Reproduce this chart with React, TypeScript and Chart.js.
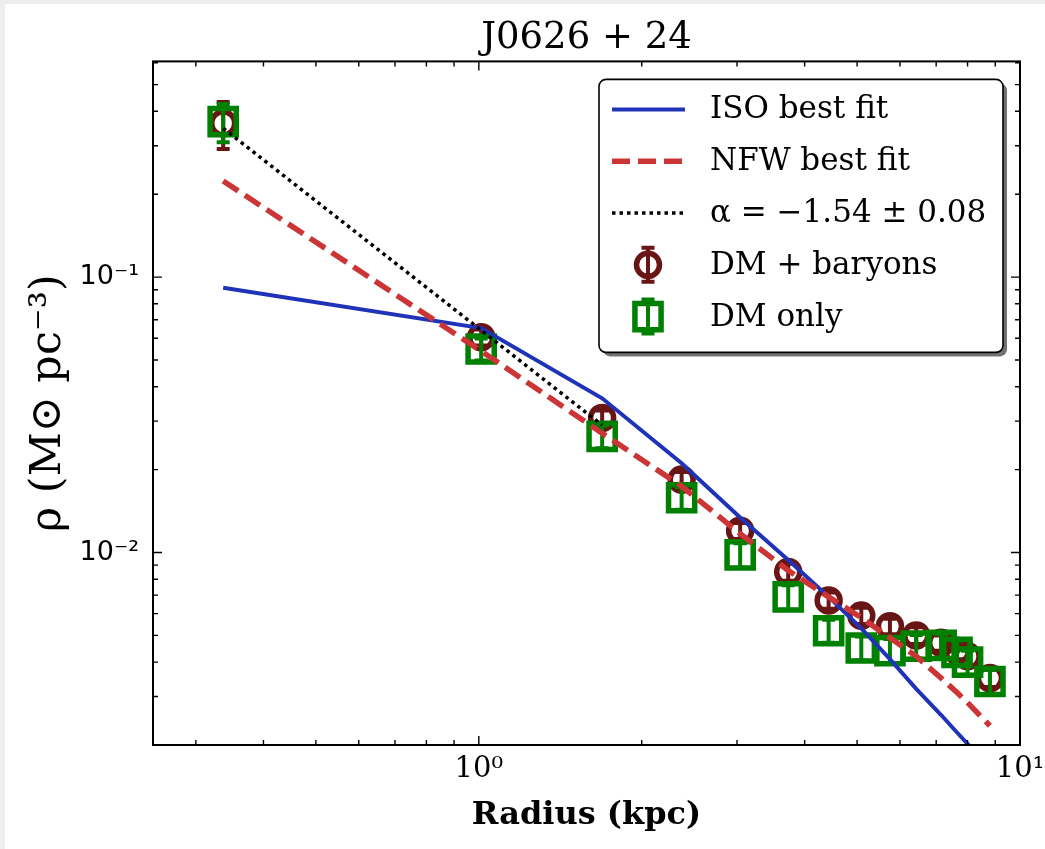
import React, { useEffect, useRef } from "react";
import { Chart, registerables } from "chart.js";

Chart.register(...registerables);

// Radii of the density-profile bins (kpc)
const radiusKpc = [0.337, 1.01, 1.69, 2.37, 3.04, 3.73, 4.43, 5.09, 5.75, 6.43, 7.15, 7.65, 8.0, 8.8];

// Dark matter + baryons density (M_sun pc^-3) and its 1-sigma error
const rhoDmBaryons = [0.362, 0.0605, 0.0308, 0.0184, 0.012, 0.0085, 0.0067, 0.0059, 0.0054, 0.005, 0.0047, 0.0044, 0.0042, 0.0035];
const errDmBaryons = [0.07, 0.004, 0.002, 0.0012, 0.0008, 0.0006, 0.00045, 0.0004, 0.00035, 0.00035, 0.0003, 0.0003, 0.0003, 0.00025];

// Dark matter only density (M_sun pc^-3) and its 1-sigma error
const rhoDmOnly = [0.367, 0.0548, 0.0264, 0.0158, 0.0098, 0.0069, 0.0052, 0.0045, 0.0044, 0.00457, 0.0046, 0.00434, 0.004, 0.0034];
const errDmOnly = [0.058, 0.005, 0.0025, 0.0015, 0.001, 0.0007, 0.0005, 0.00045, 0.00045, 0.00045, 0.00045, 0.00045, 0.0004, 0.00035];

// Best-fit model profiles evaluated at the bin radii
const isoBestFit = [0.0915, 0.0653, 0.0363, 0.0211, 0.0134, 0.0094, 0.0069, 0.0053, 0.0041, 0.0032, 0.00257, 0.00222, 0.00202, 0.00165];
const nfwBestFit = [0.2234, 0.0539, 0.0271, 0.0174, 0.0117, 0.0086, 0.0069, 0.0058, 0.0049, 0.0042, 0.0035, 0.0031, 0.00285, 0.00235];

// Inner power-law slope fit
const slopeRadiusKpc = [0.337, 1.01, 1.69];
const slopeFit = [0.347, 0.0641, 0.029];

const seriesLabels = ["ISO best fit", "NFW best fit", "α = −1.54 ± 0.08", "DM + baryons", "DM only"];

const titleText = "J0626 + 24";
const xTitle = "Radius (kpc)";
const yTitle = "ρ (M⊙ pc⁻³)";

const xRange = [0.25, 10];
const yRange = [0.002, 0.607];
const xTickValues = [1, 10];
const xTickLabels = ["10⁰", "10¹"];
const yTickValues = [0.01, 0.1];
const yTickLabels = ["10⁻²", "10⁻¹"];

const COLORS = {
  iso: "#1f33b8",
  nfw: "#cc3535",
  slope: "#000000",
  baryons: "#6a1515",
  dmOnly: "#008000",
};

const pairs = (xs: number[], ys: number[]) => xs.map((x, i) => ({ x, y: ys[i] }));

const labelFor = (v: number, values: number[], labels: string[]) => {
  const i = values.findIndex((t) => Math.abs(t - v) / t < 1e-6);
  return i >= 0 ? labels[i] : "";
};

function roundedRect(ctx: CanvasRenderingContext2D, x: number, y: number, w: number, h: number, r: number) {
  ctx.beginPath();
  ctx.moveTo(x + r, y);
  ctx.lineTo(x + w - r, y);
  ctx.arcTo(x + w, y, x + w, y + r, r);
  ctx.lineTo(x + w, y + h - r);
  ctx.arcTo(x + w, y + h, x + w - r, y + h, r);
  ctx.lineTo(x + r, y + h);
  ctx.arcTo(x, y + h, x, y + h - r, r);
  ctx.lineTo(x, y + r);
  ctx.arcTo(x, y, x + r, y, r);
  ctx.closePath();
}

function drawErrorBar(ctx: CanvasRenderingContext2D, px: number, top: number, bot: number, color: string) {
  ctx.strokeStyle = color;
  ctx.lineWidth = 4;
  ctx.beginPath();
  ctx.moveTo(px, top);
  ctx.lineTo(px, bot);
  ctx.stroke();
  ctx.beginPath();
  ctx.moveTo(px - 6.5, top);
  ctx.lineTo(px + 6.5, top);
  ctx.moveTo(px - 6.5, bot);
  ctx.lineTo(px + 6.5, bot);
  ctx.stroke();
}

export default function App() {
  const ref = useRef<HTMLCanvasElement>(null);

  useEffect(() => {
    const canvas = ref.current;
    if (!canvas) return;

    const errorSets: Record<number, { errors: number[]; color: string }> = {
      0: { errors: errDmBaryons, color: COLORS.baryons },
      1: { errors: errDmOnly, color: COLORS.dmOnly },
    };

    // Vertical error bars with caps, drawn just before each marker set
    const errorBarPlugin = {
      id: "errorBars",
      beforeDatasetDraw(chart: any, args: any) {
        const set = errorSets[args.index];
        if (!set) return;
        const { ctx, chartArea: a, scales } = chart;
        const ds = chart.data.datasets[args.index];
        ctx.save();
        ctx.beginPath();
        ctx.rect(a.left, a.top, a.width, a.height);
        ctx.clip();
        ds.data.forEach((p: { x: number; y: number }, i: number) => {
          const e = set.errors[i];
          const px = scales.x.getPixelForValue(p.x);
          const top = scales.y.getPixelForValue(p.y + e);
          const bot = scales.y.getPixelForValue(p.y - e);
          drawErrorBar(ctx, px, top, bot, set.color);
        });
        ctx.restore();
      },
    };

    // Axes frame with inward ticks on all four sides
    const framePlugin = {
      id: "frameTicks",
      afterDatasetsDraw(chart: any) {
        const { ctx, chartArea: a, scales } = chart;
        const logTicks = (min: number, max: number) => {
          const out: { v: number; major: boolean }[] = [];
          for (let e = Math.floor(Math.log10(min)); e <= Math.ceil(Math.log10(max)); e++) {
            for (let m = 1; m <= 9; m++) {
              const v = m * Math.pow(10, e);
              if (v >= min * (1 - 1e-9) && v <= max * (1 + 1e-9)) out.push({ v, major: m === 1 });
            }
          }
          return out;
        };
        ctx.save();
        ctx.strokeStyle = "#000";
        ctx.lineWidth = 1.4;
        for (const t of logTicks(scales.x.min, scales.x.max)) {
          const px = scales.x.getPixelForValue(t.v);
          const len = t.major ? 9 : 5;
          ctx.beginPath();
          ctx.moveTo(px, a.bottom);
          ctx.lineTo(px, a.bottom - len);
          ctx.moveTo(px, a.top);
          ctx.lineTo(px, a.top + len);
          ctx.stroke();
        }
        for (const t of logTicks(scales.y.min, scales.y.max)) {
          const py = scales.y.getPixelForValue(t.v);
          const len = t.major ? 9 : 5;
          ctx.beginPath();
          ctx.moveTo(a.left, py);
          ctx.lineTo(a.left + len, py);
          ctx.moveTo(a.right, py);
          ctx.lineTo(a.right - len, py);
          ctx.stroke();
        }
        ctx.lineWidth = 2;
        ctx.strokeRect(a.left, a.top, a.width, a.height);
        ctx.restore();
      },
    };

    // Boxed legend with drop shadow in the upper right of the plot
    const legendPlugin = {
      id: "boxLegend",
      afterDraw(chart: any) {
        const { ctx, chartArea: a } = chart;
        const w = 404;
        const h = 273;
        const bx = a.right - 17 - w;
        const by = a.top + 18;
        ctx.save();
        roundedRect(ctx, bx + 4, by + 4, w, h, 7);
        ctx.fillStyle = "rgba(0,0,0,0.55)";
        ctx.fill();
        roundedRect(ctx, bx, by, w, h, 7);
        ctx.fillStyle = "#ffffff";
        ctx.fill();
        ctx.lineWidth = 1.6;
        ctx.strokeStyle = "#000";
        ctx.stroke();

        const order = [2, 3, 4, 0, 1];
        const x0 = bx + 13;
        const x1 = bx + 86;
        const xc = bx + 49;
        order.forEach((di, row) => {
          const ds = chart.data.datasets[di];
          const ry = by + 30 + row * 51.8;
          if (ds.showLine) {
            ctx.save();
            ctx.strokeStyle = ds.borderColor;
            ctx.lineWidth = ds.borderWidth;
            ctx.setLineDash(ds.borderDash || []);
            ctx.beginPath();
            ctx.moveTo(x0, ry);
            ctx.lineTo(x1, ry);
            ctx.stroke();
            ctx.restore();
          } else {
            const color = ds.pointBorderColor;
            drawErrorBar(ctx, xc, ry - 17, ry + 17, color);
            ctx.strokeStyle = color;
            ctx.lineWidth = ds.pointBorderWidth;
            ctx.beginPath();
            if (ds.pointStyle === "rect") {
              const s = ds.pointRadius * Math.SQRT1_2;
              ctx.rect(xc - s, ry - s, 2 * s, 2 * s);
            } else {
              ctx.arc(xc, ry, ds.pointRadius, 0, Math.PI * 2);
            }
            ctx.stroke();
          }
          ctx.fillStyle = "#000";
          ctx.font = '31px "DejaVu Serif"';
          ctx.textBaseline = "middle";
          ctx.textAlign = "left";
          ctx.fillText(ds.label, bx + 111, ry + 1);
        });
        ctx.restore();
      },
    };

    const chart = new Chart(canvas, {
      type: "scatter",
      data: {
        datasets: [
          {
            label: seriesLabels[3],
            data: pairs(radiusKpc, rhoDmBaryons),
            showLine: false,
            pointStyle: "circle",
            pointRadius: 11.5,
            pointBorderWidth: 5.5,
            pointBorderColor: COLORS.baryons,
            pointBackgroundColor: "rgba(0,0,0,0)",
            order: 4,
          },
          {
            label: seriesLabels[4],
            data: pairs(radiusKpc, rhoDmOnly),
            showLine: false,
            pointStyle: "rect",
            pointRadius: 18.5,
            pointBorderWidth: 5.5,
            pointBorderColor: COLORS.dmOnly,
            pointBackgroundColor: "rgba(0,0,0,0)",
            order: 3,
          },
          {
            label: seriesLabels[0],
            data: pairs(radiusKpc, isoBestFit),
            showLine: true,
            borderColor: COLORS.iso,
            borderWidth: 4,
            pointRadius: 0,
            order: 2,
          },
          {
            label: seriesLabels[1],
            data: pairs(radiusKpc, nfwBestFit),
            showLine: true,
            borderColor: COLORS.nfw,
            borderWidth: 5.5,
            borderDash: [18, 8],
            pointRadius: 0,
            order: 1,
          },
          {
            label: seriesLabels[2],
            data: pairs(slopeRadiusKpc, slopeFit),
            showLine: true,
            borderColor: COLORS.slope,
            borderWidth: 3.5,
            borderDash: [3.5, 4],
            pointRadius: 0,
            order: 0,
          },
        ] as any,
      },
      options: {
        responsive: false,
        animation: false,
        devicePixelRatio: 1,
        layout: { padding: { left: 0, top: 0, right: 25, bottom: 0 } },
        plugins: {
          legend: { display: false },
          tooltip: { enabled: false },
          title: {
            display: true,
            fullSize: false,
            text: titleText,
            color: "#000",
            font: { family: "DejaVu Serif", size: 37, weight: "normal" },
            padding: { top: 12, bottom: 1 },
          },
        },
        scales: {
          x: {
            type: "logarithmic",
            min: xRange[0],
            max: xRange[1],
            grid: { display: false, drawTicks: false },
            border: { display: false },
            ticks: {
              autoSkip: false,
              maxRotation: 0,
              padding: 7,
              color: "#000",
              font: { family: "DejaVu Serif", size: 29 },
              callback: (v: any) => labelFor(Number(v), xTickValues, xTickLabels),
            },
            title: {
              display: true,
              text: xTitle,
              color: "#000",
              font: { family: "DejaVu Serif", size: 32, weight: "bold" },
              padding: { top: 0, bottom: 14 },
            },
            afterFit: (s: any) => {
              s.height = 104;
              s.paddingLeft = 0;
              s.paddingRight = 0;
            },
          },
          y: {
            type: "logarithmic",
            min: yRange[0],
            max: yRange[1],
            grid: { display: false, drawTicks: false },
            border: { display: false },
            ticks: {
              autoSkip: false,
              padding: 14,
              color: "#000",
              font: { family: "DejaVu Sans", size: 27 },
              callback: (v: any) => labelFor(Number(v), yTickValues, yTickLabels),
            },
            title: {
              display: true,
              text: yTitle,
              color: "#000",
              font: { family: "DejaVu Serif", size: 43, weight: "normal" },
              padding: { top: 18, bottom: 0 },
            },
            afterFit: (s: any) => {
              s.width = 148;
              s.paddingTop = 0;
              s.paddingBottom = 0;
            },
          },
        },
      } as any,
      plugins: [errorBarPlugin, framePlugin, legendPlugin],
    });

    return () => chart.destroy();
  }, []);

  return (
    <div style={{ position: "fixed", left: 0, top: 0, width: 1045, height: 849, background: "#eeeeee", overflow: "hidden" }}>
      <div style={{ position: "absolute", left: 5, top: 4, width: 1040, height: 845, background: "#ffffff" }}>
        <canvas ref={ref} width={1040} height={845} style={{ display: "block", width: 1040, height: 845 }} />
      </div>
    </div>
  );
}
